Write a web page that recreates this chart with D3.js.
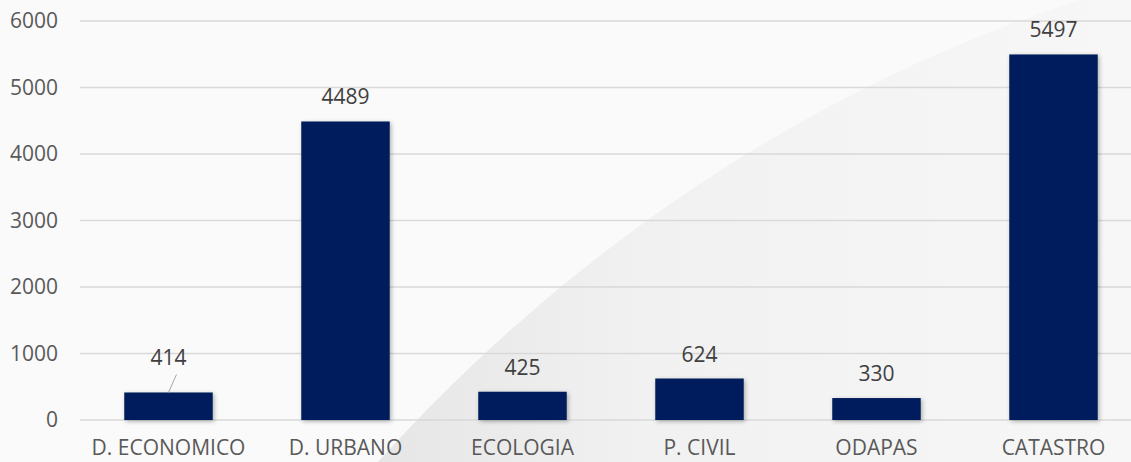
<!DOCTYPE html>
<html>
<head>
<meta charset="utf-8">
<script src="https://cdn.jsdelivr.net/npm/d3@7"></script>
<style>
  body { margin: 0; background: #fafafa; }
  svg { display: block; font-family: "Open Sans", "Noto Sans", sans-serif; }
</style>
</head>
<body>
<svg id="chart" width="1131" height="462"></svg>
<script>
const categories = ["D. ECONOMICO", "D. URBANO", "ECOLOGIA", "P. CIVIL", "ODAPAS", "CATASTRO"];
const values = [414, 4489, 425, 624, 330, 5497];
const yTicks = [0, 1000, 2000, 3000, 4000, 5000, 6000];

const width = 1131, height = 462;
const margin = { top: 21, right: -11, bottom: 42, left: 80 };
const fontSize = 21;

const svg = d3.select("#chart");
const defs = svg.append("defs");

// soft background swoosh
const grad = defs.append("linearGradient")
  .attr("id", "swoosh")
  .attr("x1", "0%").attr("y1", "0%").attr("x2", "100%").attr("y2", "0%");
grad.append("stop").attr("offset", "0%").attr("stop-color", "#e6e6e6");
grad.append("stop").attr("offset", "35%").attr("stop-color", "#f1f1f1");
grad.append("stop").attr("offset", "100%").attr("stop-color", "#f7f7f7");

const shadow = defs.append("filter").attr("id", "shadow")
  .attr("x", "-10%").attr("y", "-10%").attr("width", "130%").attr("height", "130%");
shadow.append("feDropShadow")
  .attr("dx", 1.5).attr("dy", 1.5).attr("stdDeviation", 2)
  .attr("flood-color", "#000").attr("flood-opacity", 0.3);

svg.append("rect").attr("width", width).attr("height", height).attr("fill", "#fafafa");
svg.append("path")
  .attr("d", "M378,462 C560,260 800,90 1080,0 L1131,0 L1131,462 Z")
  .attr("fill", "url(#swoosh)");

const x = d3.scaleBand()
  .domain(categories)
  .range([margin.left, width - margin.right])
  .paddingInner(0.5)
  .paddingOuter(0.25);

const y = d3.scaleLinear()
  .domain([0, 6000])
  .range([height - margin.bottom, margin.top]);

// gridlines
svg.append("g")
  .selectAll("line")
  .data(yTicks)
  .join("line")
  .attr("x1", margin.left)
  .attr("x2", width)
  .attr("y1", d => y(d))
  .attr("y2", d => y(d))
  .attr("stroke", "#d9d9d9")
  .attr("stroke-width", 1.3);

// y axis labels
const yAxis = svg.append("g")
  .attr("transform", `translate(${margin.left - 22},0)`)
  .call(d3.axisLeft(y).tickValues(yTicks).tickFormat(d3.format("d")).tickSize(0).tickPadding(0));
yAxis.select(".domain").remove();
yAxis.selectAll("text")
  .attr("font-family", "'Open Sans', sans-serif")
  .attr("font-size", fontSize)
  .attr("fill", "#595959");

// x axis labels
const xAxis = svg.append("g")
  .attr("transform", `translate(0,${y(0)})`)
  .call(d3.axisBottom(x).tickSize(0).tickPadding(20));
xAxis.select(".domain").remove();
xAxis.selectAll("text")
  .attr("font-family", "'Open Sans', sans-serif")
  .attr("font-size", fontSize)
  .attr("fill", "#595959");

// bars
svg.append("g")
  .selectAll("rect")
  .data(values)
  .join("rect")
  .attr("x", (d, i) => x(categories[i]))
  .attr("y", d => y(d))
  .attr("width", x.bandwidth())
  .attr("height", d => y(0) - y(d))
  .attr("fill", "#001f5b")
  .attr("filter", "url(#shadow)");

// value labels (first one lifted with a leader line)
const lift = values.map((d, i) => i === 0 ? 10 : 0);

svg.append("g")
  .selectAll("line")
  .data(values.filter((d, i) => lift[i] > 0))
  .join("line")
  .attr("x1", x(categories[0]) + x.bandwidth() / 2 + 8)
  .attr("y1", d => y(d) - 18)
  .attr("x2", x(categories[0]) + x.bandwidth() / 2)
  .attr("y2", d => y(d))
  .attr("stroke", "#a6a6a6")
  .attr("stroke-width", 1);

svg.append("g")
  .selectAll("text")
  .data(values)
  .join("text")
  .attr("x", (d, i) => x(categories[i]) + x.bandwidth() / 2)
  .attr("y", (d, i) => y(d) - 17 - lift[i])
  .attr("text-anchor", "middle")
  .attr("font-size", fontSize)
  .attr("fill", "#404040")
  .text(d => d);
</script>
</body>
</html>
